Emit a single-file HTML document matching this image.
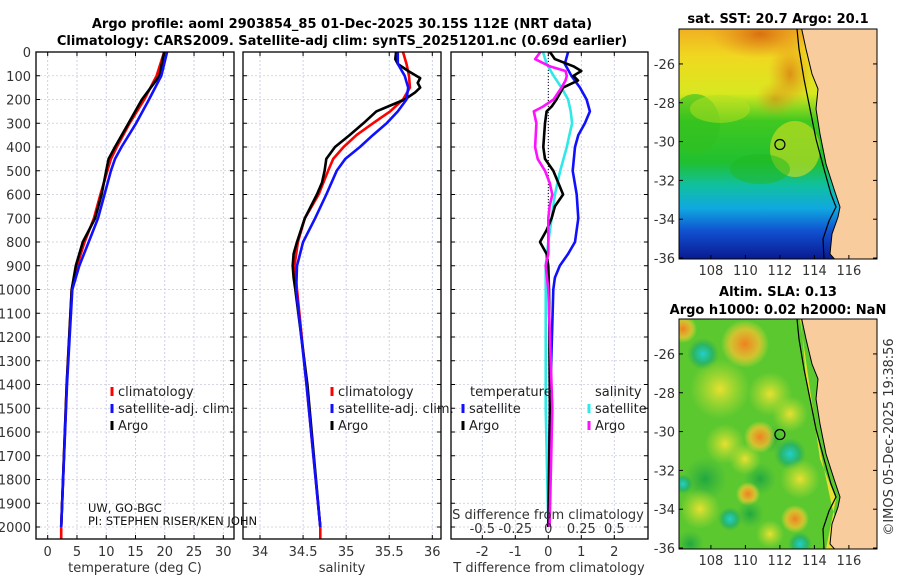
<!DOCTYPE html>
<html><head><meta charset="utf-8"><style>
html,body{margin:0;padding:0;background:#fff;}
svg{display:block;font-family:"DejaVu Sans","Liberation Sans",sans-serif;}
</style></head><body>
<svg id="fig" width="900" height="580" viewBox="0 0 900 580" xmlns="http://www.w3.org/2000/svg">
<defs>
<linearGradient id="sstGrad" x1="0" y1="0" x2="0" y2="1">
<stop offset="0" stop-color="#f0b020"/><stop offset="0.12" stop-color="#f0d820"/>
<stop offset="0.28" stop-color="#d8e820"/><stop offset="0.40" stop-color="#40c820"/>
<stop offset="0.58" stop-color="#20c030"/><stop offset="0.68" stop-color="#10c0a0"/>
<stop offset="0.78" stop-color="#10a8e0"/><stop offset="0.88" stop-color="#1050d0"/>
<stop offset="1" stop-color="#0a1a90"/></linearGradient>
<radialGradient id="gOr"><stop offset="0" stop-color="#f08020"/><stop offset="0.6" stop-color="#f0c030" stop-opacity="0.8"/><stop offset="1" stop-color="#f0e030" stop-opacity="0"/></radialGradient>
<radialGradient id="gYe"><stop offset="0" stop-color="#e8e030"/><stop offset="1" stop-color="#c0e030" stop-opacity="0"/></radialGradient>
<radialGradient id="gCy"><stop offset="0" stop-color="#20d0d0"/><stop offset="0.6" stop-color="#20b070" stop-opacity="0.8"/><stop offset="1" stop-color="#30b040" stop-opacity="0"/></radialGradient>
<radialGradient id="gGr"><stop offset="0" stop-color="#20a840"/><stop offset="1" stop-color="#30b040" stop-opacity="0"/></radialGradient>
<radialGradient id="gOrS"><stop offset="0" stop-color="#d87010"/><stop offset="1" stop-color="#e89020" stop-opacity="0"/></radialGradient>
<clipPath id="clipP1"><rect x="36" y="52" width="198" height="487"/></clipPath>
<clipPath id="clipP2"><rect x="243" y="52" width="198" height="487"/></clipPath>
<clipPath id="clipP3"><rect x="451" y="52" width="197" height="487"/></clipPath>
<clipPath id="clipM1"><rect x="679" y="29" width="198" height="230"/></clipPath>
<clipPath id="clipM2"><rect x="679" y="319" width="198" height="230"/></clipPath>
</defs>
<text x="342" y="28" text-anchor="middle" font-size="13" font-weight="bold">Argo profile: aoml 2903854_85 01-Dec-2025 30.15S 112E (NRT data)</text>
<text x="342" y="45" text-anchor="middle" font-size="13" font-weight="bold">Climatology: CARS2009. Satellite-adj clim: synTS_20251201.nc (0.69d earlier)</text>
<g id="charts"></g>
<g id="maps"></g>
<text x="0" y="0" transform="translate(893,437) rotate(-90)" text-anchor="middle" font-size="13" fill="#333">©IMOS 05-Dec-2025 19:38:56</text>
</svg>
<script>
// ---------- data ----------
const depthsT = [0,100,200,300,400,450,500,600,700,800,900,1000,1400,2000];
const tempArgo = [19.9,19.1,16.1,13.8,11.5,10.4,10.0,9.2,8.1,6.0,4.8,4.1,3.25,2.3];
const tempClim = [19.9,18.6,16.5,14.0,11.8,10.8,10.2,9.0,7.9,6.3,5.0,4.1,3.25,2.3];
const tempSat  = [20.4,19.4,17.3,15.1,12.6,11.5,10.8,9.7,8.6,7.0,5.4,4.2,3.3,2.3];
const depthsS = [0,30,50,80,110,130,150,170,200,250,300,350,400,450,500,550,600,700,800,850,900,950,1000,1400,2000];
const salArgo = [35.58,35.57,35.60,35.72,35.86,35.83,35.86,35.80,35.68,35.35,35.20,35.04,34.87,34.77,34.75,34.72,34.66,34.52,34.43,34.39,34.38,34.39,34.41,34.55,34.70];
const depthsSC = [0,50,100,150,200,250,300,350,400,450,500,600,700,800,900,1000,1400,2000];
const salClim = [35.66,35.70,35.73,35.74,35.66,35.51,35.31,35.12,34.97,34.85,34.79,34.68,34.52,34.44,34.40,34.43,34.54,34.70];
const salSat  = [35.60,35.60,35.68,35.72,35.70,35.60,35.47,35.31,35.16,34.99,34.89,34.77,34.64,34.50,34.43,34.42,34.54,34.70];
const depthsD = [0,50,100,150,200,250,300,350,400,500,600,700,800,850,900,950,1000,1500,2000];
const tDiffSat = [0.6,0.5,0.7,0.96,1.16,1.26,1.11,0.91,0.81,0.74,0.86,0.91,0.81,0.6,0.35,0.2,0.15,0.05,0.0];
const sDiffSat = [-0.04,-0.012,0.04,0.1,0.15,0.17,0.18,0.16,0.14,0.09,0.05,0.025,0.0,-0.01,-0.02,-0.02,-0.02,-0.02,0.0];
const depthsA = [0,30,60,80,100,120,150,200,230,250,300,400,450,500,550,600,650,700,750,800,850,900,1000,1500,2000];
const tDiffArgo = [0.05,0.2,0.76,1.0,0.76,0.9,0.45,0.25,0.1,-0.05,-0.1,-0.15,-0.1,0.15,0.3,0.45,0.2,0.1,-0.05,-0.25,-0.05,0.0,0.02,0.05,0.0];
const sDiffArgo = [-0.06,-0.1,0.01,0.13,0.14,0.13,0.1,0.04,-0.04,-0.11,-0.09,-0.1,-0.08,-0.025,0.01,0.03,0.01,0.0,0.0,0.0,0.0,-0.02,0.0,0.03,0.01];
const depthTicks = [0,100,200,300,400,500,600,700,800,900,1000,1100,1200,1300,1400,1500,1600,1700,1800,1900,2000];
const tempTicks = [0,5,10,15,20,25,30];
const salTicks = [34,34.5,35,35.5,36];
const salTickLabels = ["34","34.5","35","35.5","36"];
const tdTicks = [-2,-1,0,1,2];
const sdTicks = [-0.5,-0.25,0,0.25,0.5];
const sdTickLabels = ["-0.5","-0.25","0","0.25","0.5"];
const latTicks = [-26,-28,-30,-32,-34,-36];
const lonTicks = [108,110,112,114,116];
const floatLon = 112.0, floatLat = -30.15;

// ---------- helpers ----------
const NS = "http://www.w3.org/2000/svg";
function mk(tag, attrs, parent){ const e=document.createElementNS(NS,tag); for(const k in attrs) e.setAttribute(k,attrs[k]); parent.appendChild(e); return e; }
const yD = d => 52 + d*0.2375;
function lin(d0,d1,r0,r1){ return v => r0 + (v-d0)*(r1-r0)/(d1-d0); }
const charts = document.getElementById('charts');

function panel(x0,x1,xs,ticks,labels,name,clip){
  const g = mk('g',{},charts);
  
  
  const grid = mk('g',{stroke:'#c0c4e8','stroke-width':0.8,'stroke-dasharray':'2,2'},g);
  ticks.forEach(t=>{ mk('line',{x1:xs(t),x2:xs(t),y1:52,y2:539},grid); });
  depthTicks.forEach(d=>{ mk('line',{x1:x0,x2:x1,y1:yD(d),y2:yD(d),stroke:'#d0c8d8'},grid); });
  const tk = mk('g',{stroke:'#000','stroke-width':1},g);
  ticks.forEach((t,i)=>{ const x=xs(t); mk('line',{x1:x,x2:x,y1:539,y2:535},tk); mk('line',{x1:x,x2:x,y1:52,y2:56},tk);
    const tl = mk('text',{x:x,y:556,'text-anchor':'middle','font-size':13,fill:'#333',stroke:'none'},g); tl.textContent = labels[i];
    
     });
  depthTicks.forEach(d=>{ mk('line',{x1:x0,x2:x0+4,y1:yD(d),y2:yD(d)},tk); mk('line',{x1:x1,x2:x1-4,y1:yD(d),y2:yD(d)},tk); });
  return g;
}
function frame(x0,x1,name){ const r=mk('rect',{x:x0,y:52,width:x1-x0,height:487,fill:'none',stroke:'#000','stroke-width':1.3},charts);
  
   }
function series(g,xs,depths,vals,color,name,clip,w){
  const pts = depths.map((d,i)=>xs(vals[i]).toFixed(1)+','+yD(d).toFixed(1)).join(' ');
  const p = mk('polyline',{points:pts,fill:'none',stroke:color,'stroke-width':w||2.6,'stroke-linejoin':'round','clip-path':'url(#'+clip+')'},g);
  
  
}
function legend(g,x,y,color,label,name){
  mk('line',{x1:x,x2:x,y1:y-9,y2:y,stroke:color,'stroke-width':3},g);
  const t = mk('text',{x:x+6,y:y,'font-size':13,fill:'#222'},g); t.textContent = label;
  
  
}

// y tick labels
depthTicks.forEach(d=>{ const t=mk('text',{x:31,y:yD(d)+5,'text-anchor':'end','font-size':13,fill:'#333'},charts); t.textContent=String(d);
  
   });

// Panel 1: temperature
const xT = lin(0,30,47.7,223.3);
const g1 = panel(36,234,xT,tempTicks,tempTicks.map(String),'temperature-panel','clipP1');
series(g1,xT,depthsT.concat([2050]),tempClim.concat([2.3]),'#ff0000','temp-climatology-line','clipP1');
series(g1,xT,depthsT,tempArgo,'#000000','temp-argo-line','clipP1');
series(g1,xT,depthsT,tempSat,'#1010ff','temp-satellite-line','clipP1');
frame(36,234,'temperature-axes-frame');
legend(charts,112,396,'#ff0000','climatology','legend-climatology');
legend(charts,112,413,'#1010ff','satellite-adj. clim.','legend-satellite-adj');
legend(charts,112,430,'#000','Argo','legend-argo');
let t1=mk('text',{x:88,y:512,'font-size':11.5,fill:'#111'},charts); t1.textContent='UW, GO-BGC';
 
let t2=mk('text',{x:88,y:525,'font-size':11.5,fill:'#111'},charts); t2.textContent='PI: STEPHEN RISER/KEN JOHN';
 
let xl1=mk('text',{x:135,y:572,'text-anchor':'middle','font-size':13,fill:'#333'},charts); xl1.textContent='temperature (deg C)';
 

// Panel 2: salinity
const xS = lin(34,36,260,432.3);
const g2 = panel(243,441,xS,salTicks,salTickLabels,'salinity-panel','clipP2');
series(g2,xS,depthsSC.concat([2050]),salClim.concat([34.70]),'#ff0000','sal-climatology-line','clipP2');
series(g2,xS,depthsS,salArgo,'#000000','sal-argo-line','clipP2');
series(g2,xS,depthsSC,salSat,'#1010ff','sal-satellite-line','clipP2');
frame(243,441,'salinity-axes-frame');
legend(charts,332,396,'#ff0000','climatology','legend-climatology-2');
legend(charts,332,413,'#1010ff','satellite-adj. clim.','legend-satellite-adj-2');
legend(charts,332,430,'#000','Argo','legend-argo-2');
let xl2=mk('text',{x:342,y:572,'text-anchor':'middle','font-size':13,fill:'#333'},charts); xl2.textContent='salinity';
 

// Panel 3: differences
const xTD = lin(0,2,548.3,614.3);
const xSD = lin(0,0.5,548.3,614.3);
const g3 = panel(451,648,xTD,tdTicks,tdTicks.map(String),'difference-panel','clipP3');
mk('line',{x1:xTD(0),x2:xTD(0),y1:52,y2:yD(1000),stroke:'#000','stroke-width':1,'stroke-dasharray':'1,2'},g3);
series(g3,xTD,depthsD,tDiffSat,'#1010ff','tdiff-satellite-line','clipP3');
series(g3,xSD,depthsD,sDiffSat,'#30e8e8','sdiff-satellite-line','clipP3');
series(g3,xTD,depthsA,tDiffArgo,'#000000','tdiff-argo-line','clipP3');
series(g3,xSD,depthsA,sDiffArgo,'#ff10ff','sdiff-argo-line','clipP3');
frame(451,648,'difference-axes-frame');
sdTicks.forEach((s,i)=>{ const t=mk('text',{x:xSD(s),y:533,'text-anchor':'middle','font-size':13,fill:'#333'},charts); t.textContent=sdTickLabels[i];
    });
let sl=mk('text',{x:548,y:519,'text-anchor':'middle','font-size':13,fill:'#333'},charts); sl.textContent='S difference from climatology';
 
let tl3=mk('text',{x:549,y:572,'text-anchor':'middle','font-size':13,fill:'#333'},charts); tl3.textContent='T difference from climatology';
 
let lt=mk('text',{x:470,y:396,'font-size':13,fill:'#222'},charts); lt.textContent='temperature';
 
let ls=mk('text',{x:595,y:396,'font-size':13,fill:'#222'},charts); ls.textContent='salinity';
 
legend(charts,463,413,'#1010ff','satellite','legend-t-satellite');
legend(charts,463,430,'#000','Argo','legend-t-argo');
legend(charts,589,413,'#30e8e8','satellite','legend-s-satellite');
legend(charts,589,430,'#ff10ff','Argo','legend-s-argo');

// ---------- maps ----------
const maps = document.getElementById('maps');
const lonX = lin(106.15,117.63,679,877);
function mapAxes(top,title1,title2,name,clip,kind){
  const latY = lin(-24.2,-36.05,top,top+230);
  const g = mk('g',{},maps);
  
  
  const c = mk('g',{'clip-path':'url(#'+clip+')'},g);
  if(kind==='sst'){
    mk('rect',{x:679,y:top,width:198,height:230,fill:'url(#sstGrad)'},c);
    mk('ellipse',{cx:760,cy:top+5,rx:50,ry:25,fill:'url(#gOrS)'},c);
    mk('ellipse',{cx:790,cy:top+45,rx:22,ry:35,fill:'url(#gOrS)',opacity:0.7},c);
    mk('ellipse',{cx:775,cy:top+70,rx:20,ry:18,fill:'url(#gOrS)',opacity:0.5},c);
    mk('ellipse',{cx:695,cy:top+95,rx:25,ry:30,fill:'#30c020',opacity:0.6},c);
    mk('ellipse',{cx:720,cy:top+80,rx:30,ry:14,fill:'#b8e020',opacity:0.5},c);
    mk('ellipse',{cx:795,cy:top+120,rx:25,ry:28,fill:'#d8e020',opacity:0.6},c);
    mk('ellipse',{cx:760,cy:top+140,rx:30,ry:15,fill:'#20b820',opacity:0.5},c);
  } else {
    mk('rect',{x:679,y:top,width:198,height:230,fill:'#5cc830'},c);
    const blobs=[[745,25,24,'gOr'],[703,35,16,'gCy'],[683,10,14,'gOr'],[720,70,30,'gYe'],[770,75,22,'gYe'],[770,120,14,'gGr'],
      [760,118,16,'gOr'],[725,125,20,'gYe'],[790,135,16,'gCy'],[705,160,22,'gGr'],[760,160,16,'gGr'],[800,160,20,'gYe'],
      [683,165,10,'gCy'],[748,175,12,'gOr'],[700,190,20,'gYe'],[750,195,14,'gGr'],[730,200,12,'gCy'],[795,200,14,'gOr'],
      [800,225,12,'gCy'],[690,225,14,'gGr'],[770,215,14,'gYe'],[790,95,18,'gYe'],[745,140,16,'gYe']];
    blobs.forEach(b=>mk('circle',{cx:b[0],cy:top+b[1],r:b[2],fill:'url(#'+b[3]+')'},c));
    mk('path',{d:`M800,${top} L820,${top+140} L836,${top+180} L826,${top+230} L877,${top+230} L877,${top+218} L840,${top+215} L832,${top+188} L822,${top+140} L806,${top+60} L801,${top} Z`,fill:'#e8e030'},c);
  }
  // land
  mk('path',{d:`M801.7,${top} L806,${top+20} L812,${top+45} L818,${top+60} L816,${top+80} L820,${top+105} L826,${top+135} L834,${top+160} L840,${top+178} L838,${top+188} L832,${top+205} L830,${top+225} L840,${top+236} L873,${top+241} L877,${top+242} L877,${top} Z`,fill:'#f8cc9c',stroke:'#000','stroke-width':1},c);
  mk('path',{d:`M797,${top} L799,${top+20} L804,${top+50} L810,${top+80} L816,${top+110} L824,${top+140} L831,${top+165} L836,${top+178} L829,${top+192} L823,${top+210} L824,${top+230} L832,${top+238} L852,${top+244} L877,${top+247}`,fill:'none',stroke:'#000','stroke-width':1.2},c);
  mk('circle',{cx:lonX(floatLon),cy:latY(floatLat),r:5,fill:'none',stroke:'#000','stroke-width':1.2},g);
  mk('rect',{x:679,y:top,width:198,height:230,fill:'none',stroke:'#000','stroke-width':1},g);
  latTicks.forEach(l=>{ const y=latY(l); mk('line',{x1:679,x2:683,y1:y,y2:y,stroke:'#000'},g); mk('line',{x1:877,x2:873,y1:y,y2:y,stroke:'#000'},g);
    const t=mk('text',{x:675,y:y+5,'text-anchor':'end','font-size':13,fill:'#333'},g); t.textContent=String(l);
      });
  lonTicks.forEach(l=>{ const x=lonX(l); mk('line',{x1:x,x2:x,y1:top+230,y2:top+226,stroke:'#000'},g);
    const t=mk('text',{x:x,y:top+246,'text-anchor':'middle','font-size':13,fill:'#333'},g); t.textContent=String(l);
      });
  if(title2){
    const a=mk('text',{x:778,y:top-23,'text-anchor':'middle','font-size':13,'font-weight':'bold'},g); a.textContent=title1;
     
    const b=mk('text',{x:778,y:top-5,'text-anchor':'middle','font-size':13,'font-weight':'bold'},g); b.textContent=title2;
     
  } else {
    const a=mk('text',{x:778,y:top-6,'text-anchor':'middle','font-size':13,'font-weight':'bold'},g); a.textContent=title1;
     
  }
}
mapAxes(29,'sat. SST: 20.7 Argo: 20.1',null,'sst-map','clipM1','sst');
mapAxes(319,'Altim. SLA: 0.13','Argo h1000: 0.02 h2000: NaN','sla-map','clipM2','sla');
</script>
</body></html>
